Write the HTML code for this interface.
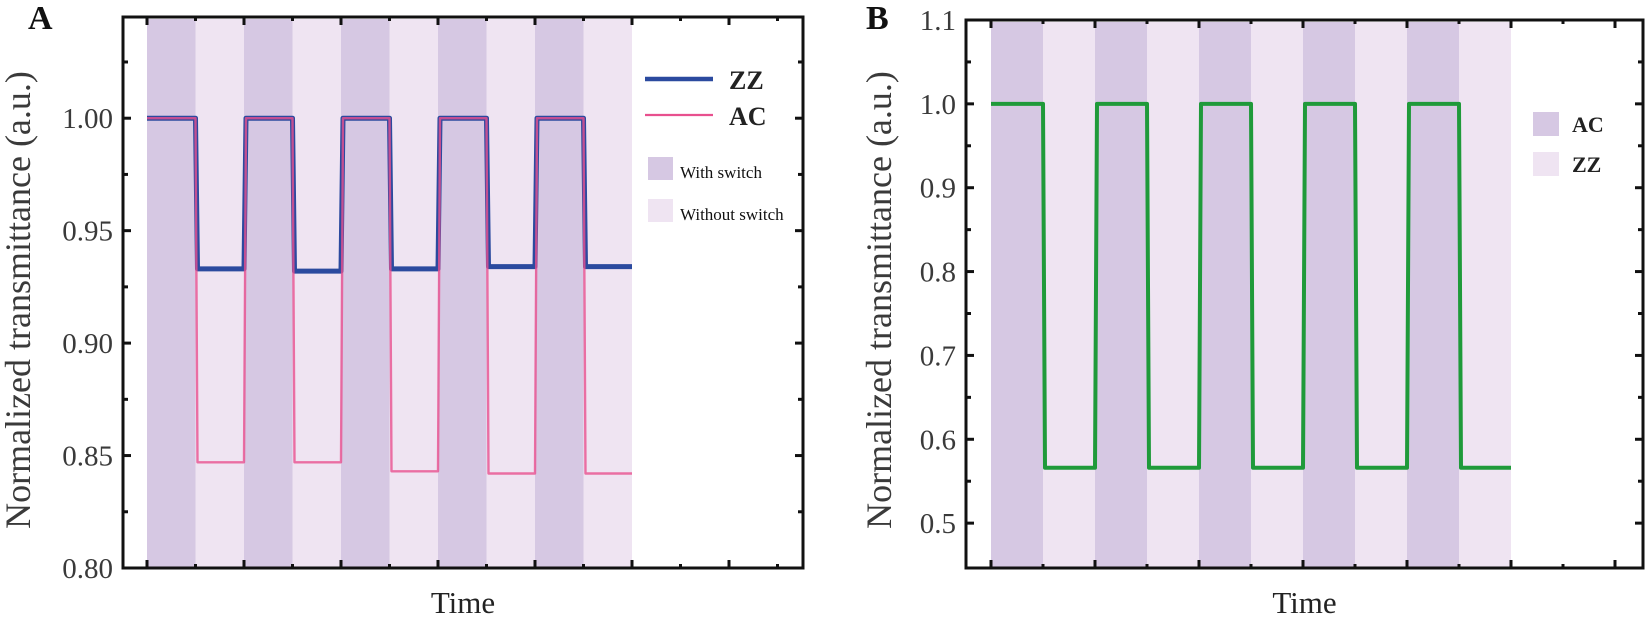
<!DOCTYPE html>
<html><head><meta charset="utf-8"><style>
html,body{margin:0;padding:0;background:#fff;}
svg{display:block;font-family:"Liberation Serif",serif;}
</style></head><body>
<svg id="fig" width="1650" height="619" viewBox="0 0 1650 619" xmlns="http://www.w3.org/2000/svg">
<g id="pa"></g>
<g id="pb"></g>
<g>
  <line x1="645" y1="79" x2="713" y2="79" stroke="#2b4a9f" stroke-width="4.5"/>
  <text x="729" y="89" font-size="26" font-weight="bold" fill="#222">ZZ</text>
  <line x1="645" y1="115" x2="713" y2="115" stroke="#e8508e" stroke-width="2.2"/>
  <text x="729" y="125" font-size="26" font-weight="bold" fill="#222">AC</text>
  <rect x="648" y="157" width="25" height="23" fill="#d6c8e3"/>
  <text x="680" y="178" font-size="17" fill="#111">With switch</text>
  <rect x="648" y="199" width="25" height="23" fill="#efe4f2"/>
  <text x="680" y="220" font-size="17" fill="#111">Without switch</text>
</g>
<g>
  <rect x="1533" y="112" width="26" height="24" fill="#d6c8e3"/>
  <text x="1572" y="132" font-size="22" font-weight="bold" fill="#222">AC</text>
  <rect x="1533" y="152" width="26" height="24" fill="#efe4f2"/>
  <text x="1572" y="172" font-size="22" font-weight="bold" fill="#222">ZZ</text>
</g>
</svg>
<script>
// Panel A data (one level per time segment)
const segmentsA = [0,1,2,3,4,5,6,7,8,9];
const zzValues = [1.000,0.933,1.000,0.932,1.000,0.933,1.000,0.934,1.000,0.934];
const acValues = [1.000,0.847,1.000,0.847,1.000,0.843,1.000,0.842,1.000,0.842];
const yTicksA = [0.80,0.85,0.90,0.95,1.00];
const yTickLabelsA = ["0.80","0.85","0.90","0.95","1.00"];
// Panel B data
const segmentsB = [0,1,2,3,4,5,6,7,8,9];
const greenValues = [1.000,0.566,1.000,0.566,1.000,0.566,1.000,0.566,1.000,0.566];
const yTicksB = [0.5,0.6,0.7,0.8,0.9,1.0,1.1];
const yTickLabelsB = ["0.5","0.6","0.7","0.8","0.9","1.0","1.1"];

const NS="http://www.w3.org/2000/svg";
function mk(parent,tag,attrs,text){const e=document.createElementNS(NS,tag);for(const k in attrs)e.setAttribute(k,attrs[k]);if(text!==undefined)e.textContent=text;parent.appendChild(e);return e;}

function panel(g,cfg){
  const X=v=>cfg.x0+v*cfg.seg;
  const Y=v=>cfg.B+(v-cfg.yd[0])/(cfg.yd[1]-cfg.yd[0])*(cfg.T-cfg.B);
  cfg.segs.forEach((s,i)=>{
    const r=mk(g,'rect',{x:X(s),y:cfg.T+2,width:cfg.seg,height:cfg.B-cfg.T-2,fill:i%2===0?'#d6c8e3':'#efe4f2'});
    
    
  });
  cfg.series.forEach(se=>{
    let d='';
    cfg.segs.forEach((s,i)=>{
      const y=Y(se.vals[i]).toFixed(1);
      const xa=(X(s)+(i===0?0:2)).toFixed(1), xb=X(s+1).toFixed(1);
      d+=(i===0?'M':'L')+xa+','+y+' L'+xb+','+y+' ';
    });
    const p=mk(g,'path',{d:d,fill:'none',stroke:se.color,'stroke-width':se.w,'stroke-linejoin':'round','stroke-opacity':se.op||1});
    
    
  });
  const f=mk(g,'rect',{x:cfg.L,y:cfg.T,width:cfg.R-cfg.L,height:cfg.B-cfg.T,fill:'none',stroke:'#111','stroke-width':3});
  
  
  for(let t=0;X(t)<cfg.R-3;t++){
    const len=t%2===0?8:4, x=X(t);
    mk(g,'line',{x1:x,x2:x,y1:cfg.B,y2:cfg.B-len,stroke:'#111','stroke-width':3});
    mk(g,'line',{x1:x,x2:x,y1:cfg.T,y2:cfg.T+len,stroke:'#111','stroke-width':3});
  }
  const step=cfg.yt[1]-cfg.yt[0];
  cfg.yt.forEach((v,i)=>{
    const y=Y(v);
    mk(g,'line',{x1:cfg.L,x2:cfg.L+8,y1:y,y2:y,stroke:'#111','stroke-width':3});
    mk(g,'line',{x1:cfg.R,x2:cfg.R-8,y1:y,y2:y,stroke:'#111','stroke-width':3});
    const lab=mk(g,'text',{x:cfg.L-10,y:y+10,'text-anchor':'end','font-size':29,fill:'#3a3a3a'},cfg.ytl[i]);
    
    
    const ym=Y(v+step/2);
    if(ym>cfg.T+3){
      mk(g,'line',{x1:cfg.L,x2:cfg.L+5,y1:ym,y2:ym,stroke:'#111','stroke-width':3});
      mk(g,'line',{x1:cfg.R,x2:cfg.R-5,y1:ym,y2:ym,stroke:'#111','stroke-width':3});
    }
  });
  const yt=mk(g,'text',{x:0,y:0,'text-anchor':'middle','font-size':36,fill:'#3a3a3a',transform:'translate('+cfg.ytx+',300) rotate(-90)'},'Normalized transmittance (a.u.)');
  
  
  const xt=mk(g,'text',{x:(cfg.L+cfg.R)/2,y:613,'text-anchor':'middle','font-size':31,fill:'#222'},'Time');
  
  
  const pl=mk(g,'text',{x:cfg.lx,y:29,'font-size':34,'font-weight':'bold',fill:'#111'},cfg.label);
  
  
}

panel(document.getElementById('pa'),{L:123,R:803,T:17,B:568,x0:147,seg:48.5,
  segs:segmentsA,yd:[0.80,1.045],yt:yTicksA,ytl:yTickLabelsA,ytx:30,lx:28,label:'A',
  series:[{name:'zz-line',vals:zzValues,color:'#2b4a9f',w:5},{name:'ac-line',vals:acValues,color:'#e8508e',w:2.4,op:0.8}]});
panel(document.getElementById('pb'),{L:966,R:1643,T:20,B:568,x0:991,seg:52,
  segs:segmentsB,yd:[0.4465,1.1],yt:yTicksB,ytl:yTickLabelsB,ytx:891,lx:866,label:'B',
  series:[{name:'green-line',vals:greenValues,color:'#1f9a3a',w:4}]});
</script>
</body></html>
